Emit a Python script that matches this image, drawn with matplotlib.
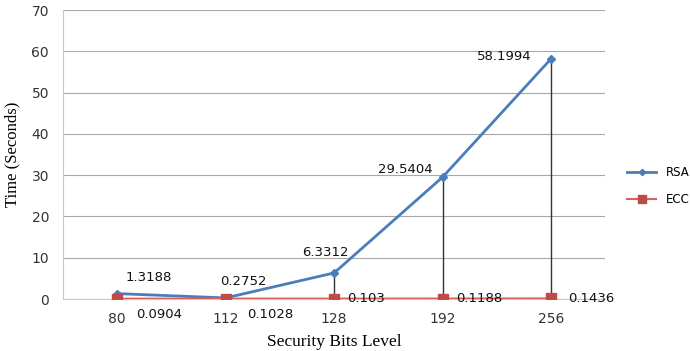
import matplotlib.pyplot as plt
import numpy as np

bits = ['80', '112', '128', '192', '256']
rsa = [1.3188, 0.2752, 6.3312, 29.5404, 58.1994]
ecc = [0.0904, 0.1028, 0.103, 0.1188, 0.1436]
rsa_labels = ['1.3188', '0.2752', '6.3312', '29.5404', '58.1994']
ecc_labels = ['0.0904', '0.1028', '0.103', '0.1188', '0.1436']

fig = plt.figure(figsize=(6.9, 3.51), dpi=100)
ax = fig.add_axes([0.0913, 0.148, 0.786, 0.8235])
x = np.arange(len(bits))

# drop lines from RSA down to ECC
ax.vlines(x, ecc, rsa, colors='#333333', linewidth=1.0, zorder=2)
ax.plot(x, rsa, color='#4A7EBB', linewidth=2, marker='D', markersize=4, label='RSA', zorder=3)
ax.plot(x, ecc, color='#D9615D', linewidth=1.5, marker='s', markersize=7,
        markerfacecolor='#BE4B48', markeredgecolor='#BE4B48', label='ECC', zorder=3)

ax.set_xlim(-0.5, len(bits) - 0.5)
ax.set_ylim(0, 70)
ax.set_yticks(range(0, 71, 10))
ax.set_xticks(x)
ax.set_xticklabels(bits)
ax.yaxis.grid(True, color='#A8A8A8', linewidth=0.8)
ax.set_axisbelow(True)
for s in ['top', 'right']:
    ax.spines[s].set_visible(False)
ax.spines['left'].set_color('#C8C8C8')
ax.spines['bottom'].set_color('#C8C8C8')
ax.tick_params(length=0, labelsize=10, colors='#333333', pad=10)
ax.tick_params(axis='x', pad=9)

# data labels, offsets in points from each marker
rsa_off = [(23, 11.5), (13, 11.5), (-6.5, 14.4), (-26.6, 5.8), (-34, 1.4)]
for xi, v, t, (dx, dy) in zip(x, rsa, rsa_labels, rsa_off):
    ax.annotate(t, (xi, v), xytext=(dx, dy), textcoords='offset points',
                fontsize=9.5, ha='center', va='center', color='#111111')
ecc_off = [(30, -11.5), (32.4, -11.5), (23, 0), (26.6, 0), (28.8, 0)]
for xi, v, t, (dx, dy) in zip(x, ecc, ecc_labels, ecc_off):
    ax.annotate(t, (xi, v), xytext=(dx, dy), textcoords='offset points',
                fontsize=9.5, ha='center', va='center', color='#111111')

ax.set_ylabel('Time (Seconds)', family='Liberation Serif', fontsize=12)
ax.yaxis.set_label_coords(-0.078, 0.5)
ax.set_xlabel('Security Bits Level', family='Liberation Serif', fontsize=12.5, labelpad=6)

ax.legend(loc='center left', bbox_to_anchor=(1.02, 0.39), frameon=False, fontsize=8.5,
          handlelength=2.5, labelspacing=1.2, markerscale=0.8)

fig.savefig('out.png', dpi=100)
